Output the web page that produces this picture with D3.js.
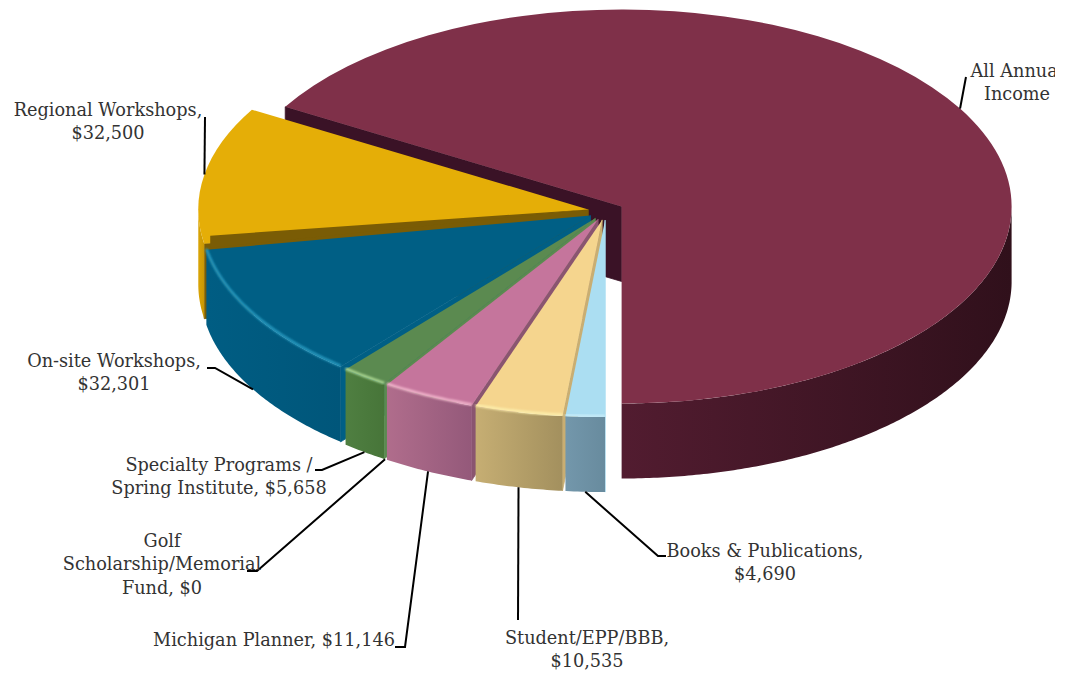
<!DOCTYPE html>
<html>
<head>
<meta charset="utf-8">
<script src="https://cdn.jsdelivr.net/npm/d3@7"></script>
<style>
  html, body { margin: 0; padding: 0; background: #fff; }
  svg { display: block; }
  text { font-family: "DejaVu Serif", serif; font-size: 17.7px; fill: #333; }
</style>
</head>
<body>
<svg id="chart" width="1068" height="673"></svg>
<script>
// slices run clockwise starting from straight down
const categories = ["Books & Publications", "Student/EPP/BBB", "Michigan Planner", "Golf Scholarship/Memorial Fund",
  "Specialty Programs / Spring Institute", "On-site Workshops", "Regional Workshops", "All Annual Income"];
const values = [4690, 10535, 11146, 0, 5658, 32301, 32500, 192700];
const labelLines = [
  ["Books & Publications,", "$4,690"],
  ["Student/EPP/BBB,", "$10,535"],
  ["Michigan Planner, $11,146"],
  ["Golf", "Scholarship/Memorial", "Fund, $0"],
  ["Specialty Programs /", "Spring Institute, $5,658"],
  ["On-site Workshops,", "$32,301"],
  ["Regional Workshops,", "$32,500"],
  ["All Annual", "Income"]
];

const topColors = ["#abdef2", "#f5d58e", "#c5759c", "#888", "#5b8a50", "#005f85", "#e5ae07", "#7f3049"];
const sideFrom = ["#7397ab", "#c6ae73", "#b06d8c", "#888", "#4f7f41", "#005d83", "#d9a406", "#521c30"];
const sideTo = ["#688b9e", "#a3905e", "#94597a", "#888", "#477539", "#00567a", "#c99704", "#30101b"];
const cutColors = ["#abdef2", "#c9ae72", "#8a5570", "#888", "#5b8a50", "#005f85", "#7a5c05", "#3a1226"];
const rimColors = ["#c8ecf8", "#fdf0ad", "#f4b9cf", "#888", "#b0dc96", "#2a9cc2", null, null];

// label anchor (centre x, first baseline) and leader elbow points
const labelPos = [[765, 557], [587, 644], [274, 646], [162, 547], [219, 471], [114, 367], [108, 116], [1017, 77]];
const leaderPts = [
  [[658, 556], [666, 556]],
  [[518, 620]],
  [[405, 647], [395, 647]],
  [[257, 571], [247, 571]],
  [[322, 470], [315, 470]],
  [[215, 368], [207, 368]],
  [[205, 117]],
  [[966, 77]]
];

const rx = 390, ry = 197, depth = 75;
const baseX = 606, baseY = 211, explode = 18;
const squash = ry / rx;

const svg = d3.select("#chart");
const defs = svg.append("defs");
defs.append("filter").attr("id", "soft").attr("x", "-10%").attr("y", "-10%").attr("width", "120%").attr("height", "120%")
  .append("feGaussianBlur").attr("stdDeviation", 1.1);
defs.append("clipPath").attr("id", "page").append("rect").attr("width", 1055).attr("height", 673);

const pie = d3.pie().sort(null).value(d => d).startAngle(Math.PI).endAngle(3 * Math.PI);
const arcs = pie(values).map((d, i) => {
  const mid = (d.startAngle + d.endAngle) / 2;
  return {
    ...d, i, mid,
    cx: baseX + explode * Math.sin(mid),
    cy: baseY - explode * squash * Math.cos(mid)
  };
});

const rimPoint = (d, a) => [d.cx + rx * Math.sin(a), d.cy - ry * Math.cos(a)];
const line = d3.line();

// only the lower half of the rim shows a side wall
function rimAngles(d) {
  const pts = d3.range(d.startAngle, d.endAngle, 0.01).concat(d.endAngle);
  return pts.filter(a => Math.cos(a) <= 0);
}

const arcGen = d3.arc().innerRadius(0).outerRadius(rx);
const g = svg.append("g");

// back to front
arcs.slice().reverse().filter(d => d.value > 0).forEach(d => {
  const angs = rimAngles(d);
  const top = angs.map(a => rimPoint(d, a));
  const xs = top.map(p => p[0]);
  const grad = defs.append("linearGradient").attr("id", "side" + d.i)
    .attr("gradientUnits", "userSpaceOnUse")
    .attr("x1", d3.min(xs)).attr("x2", d3.max(xs)).attr("y1", 0).attr("y2", 0);
  grad.append("stop").attr("offset", 0).attr("stop-color", sideFrom[d.i]);
  grad.append("stop").attr("offset", 1).attr("stop-color", sideTo[d.i]);

  // cut face on the far end of the slice
  const corner = rimPoint(d, d.startAngle);
  g.append("path")
    .attr("d", line([[d.cx, d.cy], corner, [corner[0], corner[1] + depth], [d.cx, d.cy + depth]]) + "Z")
    .attr("fill", cutColors[d.i])
    .attr("stroke", cutColors[d.i])
    .attr("stroke-width", 0.8);

  // side wall
  if (top.length) {
    const bottom = top.map(p => [p[0], p[1] + depth]).reverse();
    g.append("path").attr("d", line(top.concat(bottom)) + "Z").attr("fill", `url(#side${d.i})`);
  }

  // top face
  g.append("path")
    .attr("d", arcGen(d))
    .attr("transform", `translate(${d.cx},${d.cy}) scale(1,${squash})`)
    .attr("fill", topColors[d.i]);

  // yellow slice shows a dark lip along its lower edge
  if (d.i === 6) {
    const c = rimPoint(d, d.startAngle);
    g.append("path")
      .attr("d", line([[d.cx, d.cy], [c[0] + 6, c[1] + 4], [c[0] + 6, c[1] - 8]]) + "Z")
      .attr("fill", cutColors[d.i]);
  }

  // bevel highlight on the front rim
  if (rimColors[d.i]) {
    g.append("path")
      .attr("d", line(top.map(p => [p[0], p[1] - 1])))
      .attr("fill", "none")
      .attr("stroke", rimColors[d.i])
      .attr("stroke-width", 2.5)
      .attr("filter", "url(#soft)");
  }
});

// leaders start on the rim at the middle of each slice
const leaders = svg.append("g");
arcs.forEach(d => {
  let p = rimPoint(d, d.mid);
  if (Math.cos(d.mid) <= 0 && d.i !== 6) p = [p[0], p[1] + depth];
  leaders.append("path")
    .attr("d", line([p, ...leaderPts[d.i]]))
    .attr("fill", "none")
    .attr("stroke", "#000")
    .attr("stroke-width", 2);
});

// labels
const labels = svg.append("g").attr("clip-path", "url(#page)");
labelLines.forEach((lines, i) => {
  const t = labels.append("text").attr("text-anchor", "middle");
  lines.forEach((s, j) => {
    t.append("tspan").attr("x", labelPos[i][0]).attr("y", labelPos[i][1] + j * 23.3).text(s);
  });
});
</script>
</body>
</html>
